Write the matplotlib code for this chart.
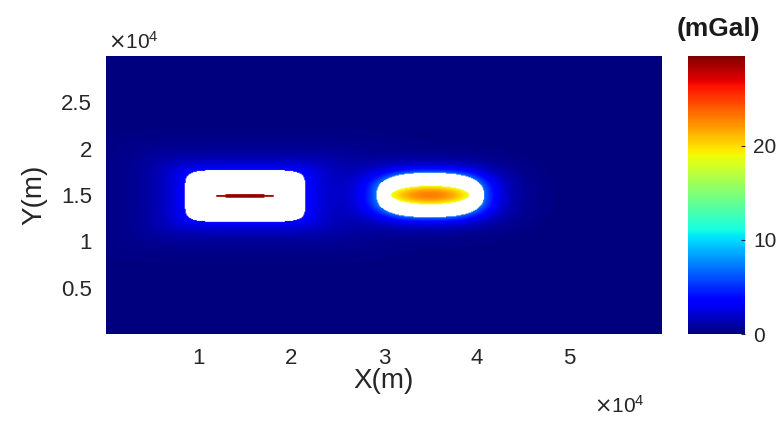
import numpy as np
import matplotlib
matplotlib.use("Agg")
import matplotlib.pyplot as plt

plt.rcParams['font.family'] = ['Liberation Sans', 'DejaVu Sans']

# --- data (model parameters) ---
src_x = [1.5e4, 3.5e4]            # source centres (m)
src_y = [1.49e4, 1.5e4]
mask_ax = [0.65e4, 0.58e4]        # half widths of blank (white) zone
mask_by = [0.28e4, 0.24e4]
mask_p = [6.0, 2.6]               # shape exponent of blank zone
core_ax = [0.32e4, 0.42e4]        # half widths of visible core
core_by = [0.02e4, 0.10e4]
core_peak = [29.0, 23.0]          # mGal at core centre
core_edge = [28.5, 18.5]          # mGal at core edge
halo_amp = [3.8, 7.0]             # mGal just outside blank zone
halo_len = [0.45, 0.32]           # decay (in normalised radius units)
x_ticks = [1e4, 2e4, 3e4, 4e4, 5e4]
x_ticklabels = ['1', '2', '3', '4', '5']
y_ticks = [0.5e4, 1e4, 1.5e4, 2e4, 2.5e4]
y_ticklabels = ['0.5', '1', '1.5', '2', '2.5']
cbar_ticks = [0, 10, 20]
vmin, vmax = 0.0, 29.5

# --- build field ---
nx, ny = 600, 300
xs = np.linspace(0, 6e4, nx)
ys = np.linspace(0, 3e4, ny)
X, Y = np.meshgrid(xs, ys)
field = np.zeros_like(X)
blank = np.zeros_like(X, dtype=bool)
for i in range(len(src_x)):
    dx = np.abs(X - src_x[i])
    dy = np.abs(Y - src_y[i])
    p = mask_p[i]
    rm = ((dx / mask_ax[i]) ** p + (dy / mask_by[i]) ** p) ** (1.0 / p)
    rc = np.sqrt((dx / core_ax[i]) ** 2 + (dy / core_by[i]) ** 2)
    core = rc < 1
    shell = (rm < 1) & ~core
    halo = halo_amp[i] * np.exp(-(np.maximum(rm, 1) - 1) / halo_len[i])
    halo[rm < 1] = 0
    field += halo
    field[core] = core_peak[i] - (core_peak[i] - core_edge[i]) * rc[core] ** 2
    blank |= shell

field = np.where(blank, np.nan, field)

W, H = 776, 423
TXT = '#262626'
fig = plt.figure(figsize=(W / 100, H / 100), dpi=100)
ax = fig.add_axes([106 / W, (H - 334) / H, 556 / W, 278 / H])
cmap = plt.get_cmap('jet').copy()
cmap.set_bad('white')
im = ax.imshow(field, origin='lower', extent=[0, 6e4, 0, 3e4], aspect='auto',
               cmap=cmap, vmin=vmin, vmax=vmax, interpolation='bilinear')
for s in ax.spines.values():
    s.set_visible(False)
ax.set_xticks(x_ticks)
ax.set_xticklabels(x_ticklabels)
ax.set_yticks(y_ticks)
ax.set_yticklabels(y_ticklabels)
ax.tick_params(axis='x', length=0, labelsize=16, colors=TXT, pad=10)
ax.tick_params(axis='y', length=0, labelsize=16, colors=TXT, pad=10)
ax.set_xlabel('X(m)', fontsize=20, color=TXT, labelpad=-1)
ax.set_ylabel('Y(m)', fontsize=20, color=TXT, labelpad=10)
fig.text(108 / W, 1 - 42 / H, r'$\times\mathregular{10^4}$', fontsize=15,
         color=TXT, va='center', ha='left')
fig.text(594 / W, 1 - 406 / H, r'$\times\mathregular{10^4}$', fontsize=15,
         color=TXT, va='center', ha='left')

cax = fig.add_axes([688 / W, (H - 334) / H, 57 / W, 278 / H])
cb = fig.colorbar(im, cax=cax, ticks=cbar_ticks)
cb.outline.set_visible(False)
cax.tick_params(direction='in', length=3, labelsize=15, colors=TXT, pad=6)
fig.text(718 / W, 1 - 29 / H, '(mGal)', fontsize=19, fontweight='bold',
         ha='center', va='center', color='#1a1a1a')

fig.savefig('out.png', dpi=100)
